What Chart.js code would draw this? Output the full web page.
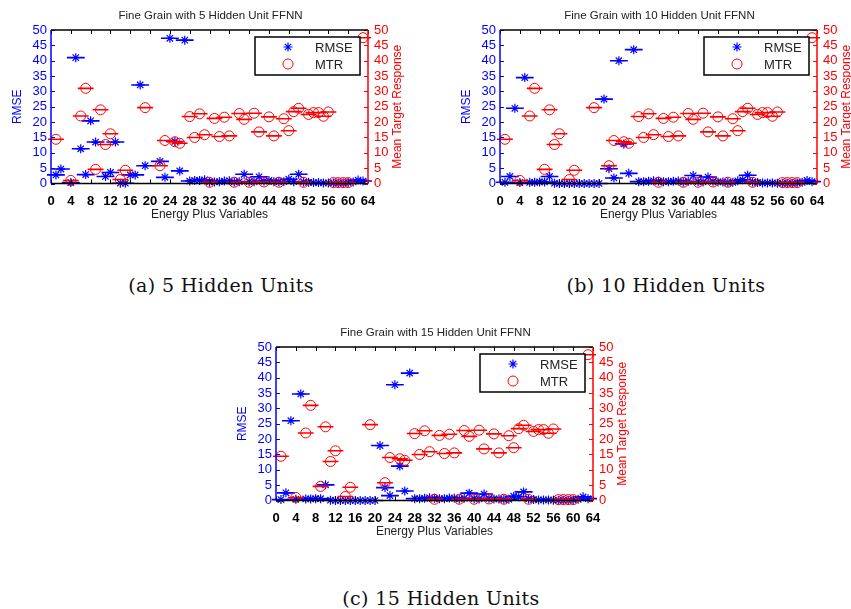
<!DOCTYPE html>
<html>
<head>
<meta charset="utf-8">
<script src="https://cdn.jsdelivr.net/npm/chart.js@4.4.1/dist/chart.umd.min.js"></script>
<style>
  html, body { margin: 0; padding: 0; background: #fff; overflow: hidden; width: 851px; height: 609px; }
  .panel { position: absolute; width: 421px; height: 230px; }
  .caption {
    position: absolute; font-family: "DejaVu Serif", serif; font-size: 19px; line-height: 22px;
    letter-spacing: 0.4px; color: #111; white-space: nowrap; transform: translateX(-50%);
  }
</style>
</head>
<body>
<div class="panel" style="left:0px;top:0px"><canvas id="chart5" width="421" height="230"></canvas></div>
<div class="panel" style="left:449px;top:0px"><canvas id="chart10" width="421" height="230"></canvas></div>
<div class="panel" style="left:225px;top:317px"><canvas id="chart15" width="421" height="230"></canvas></div>
<div class="caption" style="left:221px;top:274px">(a) 5 Hidden Units</div>
<div class="caption" style="left:666px;top:274px">(b) 10 Hidden Units</div>
<div class="caption" style="left:441px;top:587px">(c) 15 Hidden Units</div>

<script>
// Energy Plus variable index (x axis)
const variables = [1, 2, 3, 4, 5, 6, 7, 8, 9, 10, 11, 12, 13, 14, 15, 16, 17, 18, 19, 20,
    21, 22, 23, 24, 25, 26, 27, 28, 29, 30, 31, 32, 33, 34, 35, 36, 37, 38, 39, 40,
    41, 42, 43, 44, 45, 46, 47, 48, 49, 50, 51, 52, 53, 54, 55, 56, 57, 58, 59, 60,
    61, 62, 63];

// Mean target response (right axis), same in every panel
const mtr = [14.4, null, null, 1.0, null, 22.0, 31.0, null, 4.6, 24.0,
    12.7, 16.2, null, 1.3, 4.3, null, null, null, 24.7, null,
    null, 5.8, 14.0, null, 13.6, 13.1, null, 21.8, 15.0, 22.7,
    15.9, 0.4, 21.2, 15.3, 21.6, 15.5, 0.4, 22.8, 20.9, 0.4,
    22.9, 16.8, 0.5, 21.7, 15.5, 0.4, 21.1, 17.2, 23.4, 24.5,
    0.4, 22.5, 23.1, 23.1, 21.9, 23.3, 0.3, 0.3, 0.3, 0.3,
    null, null, 47.5];

// RMSE (left axis) per network size
const rmse5 = [2.8, 4.7, null, 0.3, 41.0, 11.3, 2.9, 20.4, 13.5, null,
    2.3, 3.6, 13.5, 0.1, 0.1, 2.8, 2.8, 32.1, 5.8, null,
    null, 7.2, 2.0, 47.3, 13.7, 4.1, 46.7, 0.8, 1.0, 1.0,
    1.2, 0.5, 0.5, 0.6, 0.8, 0.9, 0.5, 0.6, 3.0, 0.6,
    0.6, 2.2, 0.8, 1.0, 0.6, 0.6, 0.6, 1.4, 0.6, 3.0,
    0.5, 0.4, 0.3, 0.3, 0.2, 0.2, 0.2, 0.2, 0.2, 0.3,
    0.5, 1.1, 0.8];

const rmse10 = [0.4, 2.3, 24.5, 0.3, 34.5, 0.4, 0.4, 0.5, 0.5, 2.3,
    0.1, 0.0, 0.0, 0.0, 0.0, 0.0, 0.0, 0.0, 0.0, 0.0,
    27.5, 4.8, 1.8, 40.0, 12.9, 3.3, 43.6, 0.6, 0.6, 0.7,
    0.9, 0.7, 0.6, 0.6, 0.7, 0.8, 0.5, 0.7, 2.6, 0.6,
    0.5, 2.1, 0.7, 0.5, 0.5, 0.4, 0.4, 0.9, 1.2, 2.7,
    0.5, 0.3, 0.2, 0.2, 0.2, 0.1, 0.1, 0.1, 0.1, 0.2,
    0.4, 1.0, 0.6];

const rmse15 = [0.3, 2.5, 26.0, 0.4, 34.7, 0.5, 0.5, 0.6, 0.6, 5.1,
    0.1, 0.0, 0.0, 0.0, 0.0, 0.0, 0.0, 0.0, 0.0, 0.0,
    17.9, 4.2, 1.6, 37.7, 11.2, 3.1, 41.5, 0.6, 0.6, 0.7,
    0.9, 0.7, 0.6, 0.6, 0.8, 0.8, 0.5, 0.7, 2.4, 0.6,
    0.5, 2.1, 0.7, 0.5, 0.5, 0.4, 0.4, 1.4, 1.2, 2.8,
    0.5, 0.3, 0.2, 0.2, 0.2, 0.1, 0.1, 0.1, 0.1, 0.2,
    0.4, 1.2, 0.6];

// half width of the horizontal bars, in x units
const rmseHalfWidth = 1.8;
const mtrHalfWidth = 1.6;

const xTickStep = 4;
const yTickStep = 5;

const BLUE = '#0000ff';
const RED = '#ff0000';
const SANS = '"Liberation Sans", Arial, sans-serif';

// markers as {x, y} points
function markers(values) {
    return values.map((v, i) => ({ x: variables[i], y: v })).filter(p => p.y !== null);
}

// horizontal bars, broken with a null between segments
function barSegments(values, half) {
    const pts = [];
    values.forEach((v, i) => {
        if (v === null) return;
        const x = variables[i];
        pts.push({ x: x - half, y: v }, { x: x + half, y: v }, { x: x + half, y: null });
    });
    return pts;
}

// axis box, inward ticks, right axis label and legend (Matlab look)
const framePlugin = {
    id: 'frame',
    afterDatasetsDraw(chart) {
        const { ctx, chartArea: a, scales } = chart;
        const tl = 4;
        ctx.save();
        ctx.lineWidth = 1;

        ctx.strokeStyle = '#000';
        scales.x.ticks.forEach(t => {
            const px = Math.round(scales.x.getPixelForValue(t.value)) + 0.5;
            ctx.beginPath();
            ctx.moveTo(px, a.bottom); ctx.lineTo(px, a.bottom - tl);
            ctx.moveTo(px, a.top); ctx.lineTo(px, a.top + tl);
            ctx.stroke();
        });
        ctx.strokeStyle = BLUE;
        scales.y.ticks.forEach(t => {
            const py = Math.round(scales.y.getPixelForValue(t.value)) + 0.5;
            ctx.beginPath(); ctx.moveTo(a.left, py); ctx.lineTo(a.left + tl, py); ctx.stroke();
        });
        ctx.strokeStyle = RED;
        scales.y2.ticks.forEach(t => {
            const py = Math.round(scales.y2.getPixelForValue(t.value)) + 0.5;
            ctx.beginPath(); ctx.moveTo(a.right, py); ctx.lineTo(a.right - tl, py); ctx.stroke();
        });

        ctx.lineWidth = 1.5;
        ctx.strokeStyle = '#000';
        ctx.beginPath();
        ctx.moveTo(a.left, a.top); ctx.lineTo(a.right, a.top);
        ctx.moveTo(a.left, a.bottom); ctx.lineTo(a.right, a.bottom);
        ctx.stroke();
        ctx.strokeStyle = BLUE;
        ctx.beginPath(); ctx.moveTo(a.left, a.top); ctx.lineTo(a.left, a.bottom); ctx.stroke();
        ctx.strokeStyle = RED;
        ctx.beginPath(); ctx.moveTo(a.right, a.top); ctx.lineTo(a.right, a.bottom); ctx.stroke();

        // right axis title, reading bottom to top
        ctx.translate(a.right + 30, (a.top + a.bottom) / 2);
        ctx.rotate(-Math.PI / 2);
        ctx.fillStyle = RED;
        ctx.font = '12px ' + SANS;
        ctx.textAlign = 'center';
        ctx.textBaseline = 'middle';
        ctx.fillText('Mean Target Response', 0, 0);
        ctx.restore();

        // legend box
        const w = 105, h = 38;
        const left = a.right - 8 - w, top = a.top + 7;
        ctx.save();
        ctx.fillStyle = '#fff';
        ctx.fillRect(left, top, w, h);
        ctx.lineWidth = 1.5;
        ctx.strokeStyle = '#000';
        ctx.strokeRect(left, top, w, h);

        const mx = left + 33;
        const y1 = top + 10, y2 = top + 27;
        ctx.lineWidth = 1.2;
        ctx.strokeStyle = BLUE;
        ctx.beginPath();
        for (let k = 0; k < 4; k++) {
            const ang = k * Math.PI / 4;
            ctx.moveTo(mx - 4.5 * Math.cos(ang), y1 - 4.5 * Math.sin(ang));
            ctx.lineTo(mx + 4.5 * Math.cos(ang), y1 + 4.5 * Math.sin(ang));
        }
        ctx.stroke();
        ctx.lineWidth = 1;
        ctx.strokeStyle = RED;
        ctx.beginPath();
        ctx.arc(mx, y2, 5, 0, Math.PI * 2);
        ctx.stroke();

        ctx.fillStyle = '#222';
        ctx.font = '13px ' + SANS;
        ctx.textBaseline = 'middle';
        ctx.fillText('RMSE', left + 60, y1 + 1);
        ctx.fillText('MTR', left + 60, y2 + 1);
        ctx.restore();
    }
};

function makeChart(id, title, rmse) {
    const ctx = document.getElementById(id).getContext('2d');
    return new Chart(ctx, {
        type: 'scatter',
        data: {
            datasets: [{
                label: 'MTR',
                data: markers(mtr),
                yAxisID: 'y2',
                pointStyle: 'circle',
                pointRadius: 5,
                borderColor: RED,
                backgroundColor: 'rgba(0,0,0,0)',
                borderWidth: 1,
                clip: false
            }, {
                label: 'MTR bars',
                type: 'line',
                data: barSegments(mtr, mtrHalfWidth),
                yAxisID: 'y2',
                borderColor: RED,
                borderWidth: 1.6,
                pointRadius: 0,
                spanGaps: false,
                clip: false
            }, {
                label: 'RMSE',
                data: markers(rmse),
                yAxisID: 'y',
                pointStyle: 'star',
                pointRadius: 4.5,
                borderColor: BLUE,
                backgroundColor: BLUE,
                borderWidth: 1.2,
                clip: false
            }, {
                label: 'RMSE bars',
                type: 'line',
                data: barSegments(rmse, rmseHalfWidth),
                yAxisID: 'y',
                borderColor: BLUE,
                borderWidth: 1.6,
                pointRadius: 0,
                spanGaps: false,
                clip: false
            }]
        },
        options: {
            responsive: false,
            animation: false,
            layout: { padding: 0 },
            plugins: {
                legend: { display: false },
                tooltip: { enabled: false },
                title: {
                    display: true,
                    text: title,
                    color: '#222',
                    font: { family: SANS, size: 11.5, weight: 'normal' },
                    padding: { top: 8.5, bottom: 7.7 }
                }
            },
            scales: {
                x: {
                    type: 'linear',
                    min: 0,
                    max: 64,
                    ticks: {
                        stepSize: xTickStep,
                        color: '#000',
                        font: { family: SANS, size: 13, weight: 'bold' },
                        padding: 10,
                        maxRotation: 0,
                        autoSkip: false
                    },
                    grid: { display: false, drawTicks: false },
                    border: { display: false },
                    title: {
                        display: true,
                        text: 'Energy Plus Variables',
                        color: '#222',
                        font: { family: SANS, size: 12 },
                        padding: { top: 0, bottom: 8 }
                    },
                    afterFit: s => { s.height = 46.5; }
                },
                y: {
                    position: 'left',
                    min: 0,
                    max: 50,
                    ticks: {
                        stepSize: yTickStep,
                        autoSkip: false,
                        color: BLUE,
                        font: { family: SANS, size: 13 },
                        padding: 4
                    },
                    grid: { display: false, drawTicks: false },
                    border: { display: false },
                    title: {
                        display: true,
                        text: 'RMSE',
                        color: BLUE,
                        font: { family: SANS, size: 12 },
                        padding: { top: 10.8, bottom: 0 }
                    },
                    afterFit: s => { s.width = 51; }
                },
                y2: {
                    position: 'right',
                    min: 0,
                    max: 50,
                    ticks: {
                        stepSize: yTickStep,
                        autoSkip: false,
                        color: RED,
                        font: { family: SANS, size: 13 },
                        padding: 6
                    },
                    grid: { display: false, drawTicks: false },
                    border: { display: false },
                    afterFit: s => { s.width = 53; }
                }
            }
        },
        plugins: [framePlugin]
    });
}

makeChart('chart5', 'Fine Grain with 5 Hidden Unit FFNN', rmse5);
makeChart('chart10', 'Fine Grain with 10 Hidden Unit FFNN', rmse10);
makeChart('chart15', 'Fine Grain with 15 Hidden Unit FFNN', rmse15);
</script>
</body>
</html>
